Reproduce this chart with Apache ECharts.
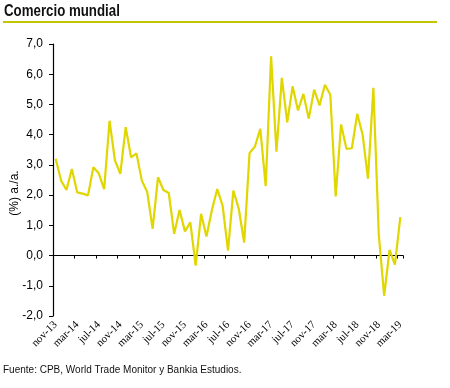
<!DOCTYPE html>
<html>
<head>
<meta charset="utf-8">
<script src="https://cdn.jsdelivr.net/npm/echarts@6/dist/echarts.min.js"></script>
<style>
html,body{margin:0;padding:0;background:#fff;}
#c{width:450px;height:388px;}
</style>
</head>
<body>
<div id="c"></div>
<script>
const monthNames = ['ene','feb','mar','abr','may','jun','jul','ago','sep','oct','nov','dic'];
const startMonth = 10; // nov
const startYear = 13;
const values = [3.2, 2.48, 2.17, 2.86, 2.09, 2.05, 1.99, 2.92, 2.72, 2.2,
  4.46, 3.15, 2.7, 4.25, 3.25, 3.38, 2.48, 2.1, 0.88, 2.59,
  2.17, 2.07, 0.72, 1.51, 0.8, 1.1, -0.33, 1.38, 0.63, 1.5,
  2.2, 1.65, 0.16, 2.15, 1.55, 0.43, 3.39, 3.61, 4.19, 2.3,
  6.59, 3.44, 5.88, 4.41, 5.6, 4.8, 5.35, 4.53, 5.49, 4.97,
  5.65, 5.32, 1.96, 4.34, 3.53, 3.55, 4.69, 4.0, 2.54, 5.55,
  0.7, -1.33, 0.19, -0.3, 1.27];
const categories = values.map((v, i) => {
  const m = (startMonth + i) % 12;
  const y = startYear + Math.floor((startMonth + i) / 12);
  return monthNames[m] + '-' + y;
});
const yTicks = [-2, -1, 0, 1, 2, 3, 4, 5, 6, 7];

const chart = echarts.init(document.getElementById('c'));
chart.setOption({
  animation: false,
  grid: {left: 53, right: 47, top: 44, bottom: 72, containLabel: false},
  xAxis: [{
    type: 'category', data: categories, boundaryGap: true, position: 'bottom',
    axisLine: {show: true, onZero: true, lineStyle: {color: '#000', width: 1.2}},
    axisTick: {show: true, interval: 3, length: 3, lineStyle: {color: '#000'}},
    axisLabel: {show: false},
    splitLine: {show: false}
  }, {
    type: 'category', data: categories, boundaryGap: true, position: 'bottom',
    axisLine: {show: false, onZero: false},
    axisTick: {show: false},
    axisLabel: {show: true, interval: 3, rotate: 45, margin: 7, color: '#000',
      fontFamily: 'Liberation Serif', fontSize: 11},
    splitLine: {show: false}
  }],
  yAxis: {
    type: 'value', min: yTicks[0], max: yTicks[yTicks.length - 1], interval: 1,
    axisLine: {show: true, lineStyle: {color: '#000', width: 1.2}},
    axisTick: {show: true, length: 4, lineStyle: {color: '#000'}},
    axisLabel: {color: '#000', fontFamily: 'Liberation Sans', fontSize: 12, margin: 10,
      formatter: v => v.toFixed(1).replace('.', ',')},
    splitLine: {show: false}
  },
  graphic: [
    {type: 'text', x: 4, y: 4, scaleX: 0.83, style: {text: 'Comercio mundial', fill: '#111',
      font: 'bold 16px "Liberation Sans", sans-serif'}},
    {type: 'line', shape: {x1: 3, y1: 22, x2: 437, y2: 22}, style: {stroke: '#c4c400', lineWidth: 2}},
    {type: 'text', x: 15, y: 193, rotation: Math.PI / 2,
      style: {text: '(%) a./a.', fill: '#000', font: '12px "Liberation Sans", sans-serif',
        align: 'center', verticalAlign: 'middle'}},
    {type: 'text', left: 3, top: 365, style: {text: 'Fuente: CPB, World Trade Monitor y Bankia Estudios.',
      fill: '#111', font: '10px "Liberation Sans", sans-serif'}}
  ],
  series: [{
    type: 'line', data: values, xAxisIndex: 0, symbol: 'none',
    lineStyle: {color: '#e0d600', width: 2.2}
  }]
});
</script>
</body>
</html>
